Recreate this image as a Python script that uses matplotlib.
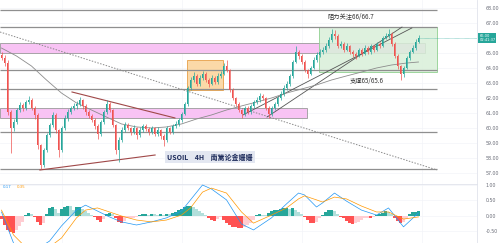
import matplotlib
matplotlib.use("Agg")
import matplotlib.pyplot as plt
from matplotlib.patches import Rectangle
import matplotlib.transforms as mtransforms

plt.rcParams['font.family'] = ['DejaVu Sans', 'Noto Sans CJK SC']

# ---------------- data (USOIL 4H) ----------------
first_open = 64.87
closes = [64.67, 64.33, 61.07, 60.00, 60.40, 61.20, 61.53, 61.33, 61.73, 61.87,
          61.33, 60.87, 58.87, 57.53, 58.53, 59.53, 60.20, 60.87, 59.87, 58.53,
          60.00, 60.67, 61.07, 61.33, 61.47, 61.60, 61.87, 61.47, 61.07, 60.80,
          60.53, 60.13, 59.60, 60.40, 61.07, 61.60, 61.20, 60.20, 58.53, 59.20,
          59.87, 60.20, 60.00, 59.73, 60.00, 59.53, 59.87, 60.13, 59.93, 59.73,
          60.00, 59.60, 59.87, 59.47, 59.20, 60.00, 59.73, 60.13, 60.27, 60.53,
          60.93, 61.60, 62.67, 63.20, 63.47, 62.93, 63.33, 63.60, 63.20, 62.93,
          63.33, 63.07, 63.47, 63.60, 64.13, 63.87, 62.53, 62.00, 61.60, 61.20,
          60.93, 61.33, 61.07, 61.47, 61.73, 61.87, 62.13, 62.00, 61.33, 60.93,
          61.33, 61.60, 62.00, 62.27, 62.67, 62.93, 63.47, 64.40, 65.07, 64.80,
          64.40, 63.87, 63.60, 64.00, 64.53, 64.87, 65.07, 65.20, 65.47, 65.87,
          66.27, 66.13, 65.47, 65.60, 65.20, 65.47, 65.07, 64.93, 64.80, 65.20,
          64.93, 65.33, 65.07, 65.47, 65.20, 65.60, 65.47, 66.00, 66.13, 66.27,
          65.60, 64.80, 64.13, 63.60, 64.00, 64.67, 65.07, 65.33, 65.73, 66.00]
highs = [65.05, 64.85, 64.50, 61.20, 60.60, 61.35, 61.75, 61.70, 61.90, 62.15,
         62.00, 61.45, 61.00, 58.95, 58.70, 59.70, 60.35, 61.10, 61.00, 59.95,
         60.15, 60.85, 61.25, 61.50, 61.65, 61.80, 62.10, 61.95, 61.60, 61.20,
         60.95, 60.65, 60.25, 60.55, 61.20, 61.87, 61.75, 61.30, 60.30, 59.40,
         60.05, 60.40, 60.35, 60.10, 60.20, 60.10, 60.05, 60.30, 60.25, 60.05,
         60.15, 60.10, 60.05, 59.95, 59.60, 60.15, 60.10, 60.30, 60.45, 60.70,
         61.10, 61.75, 62.80, 63.40, 63.75, 63.60, 63.50, 63.80, 63.70, 63.30,
         63.50, 63.45, 63.65, 63.80, 64.35, 64.53, 63.95, 62.65, 62.10, 61.75,
         61.30, 61.50, 61.45, 61.60, 61.90, 62.05, 62.35, 62.25, 62.10, 61.45,
         61.50, 61.75, 62.15, 62.45, 62.85, 63.10, 63.60, 64.55, 65.47, 65.20,
         64.90, 64.50, 63.95, 64.15, 64.70, 65.05, 65.25, 65.40, 65.65, 66.05,
         66.60, 66.50, 66.25, 65.80, 65.70, 65.65, 65.55, 65.20, 65.05, 65.35,
         65.30, 65.50, 65.45, 65.60, 65.55, 65.75, 65.70, 66.15, 66.30, 66.60,
         66.40, 65.70, 64.90, 64.20, 64.15, 64.80, 65.20, 65.50, 65.90, 66.20]
lows = [64.50, 64.15, 60.90, 58.35, 59.80, 60.25, 61.05, 61.15, 61.20, 61.60,
        61.20, 60.60, 58.60, 57.27, 57.40, 58.40, 59.40, 60.05, 59.70, 58.10,
        58.40, 59.90, 60.50, 60.95, 61.20, 61.30, 61.45, 61.30, 60.90, 60.65,
        60.40, 59.95, 59.25, 59.45, 60.30, 60.95, 61.05, 60.05, 58.30, 57.75,
        59.05, 59.75, 59.85, 59.55, 59.60, 59.30, 59.40, 59.75, 59.80, 59.55,
        59.60, 59.45, 59.50, 59.30, 58.80, 59.10, 59.60, 59.60, 60.00, 60.15,
        60.40, 60.85, 61.50, 62.55, 63.05, 62.80, 62.80, 63.20, 63.05, 62.75,
        62.85, 62.90, 62.95, 63.35, 63.50, 63.70, 62.40, 61.85, 61.45, 61.05,
        60.70, 60.80, 60.95, 60.95, 61.35, 61.60, 61.75, 61.85, 61.20, 60.70,
        60.80, 61.20, 61.50, 61.85, 62.15, 62.55, 62.80, 63.35, 64.30, 64.60,
        64.25, 63.70, 63.33, 63.50, 63.90, 64.40, 64.75, 64.95, 65.05, 65.35,
        65.75, 65.95, 65.30, 65.35, 65.05, 65.10, 64.90, 64.75, 64.60, 64.70,
        64.80, 64.85, 64.95, 64.95, 65.05, 65.10, 65.30, 65.40, 65.90, 66.00,
        65.45, 64.65, 63.95, 63.20, 63.40, 63.90, 64.55, 65.00, 65.20, 65.65]

ma_idx = [0, 5, 10, 15, 20, 25, 30, 35, 40, 45, 50, 55, 60, 65, 70, 75, 80,
          85, 90, 95, 100, 105, 110, 115, 120, 125, 130, 135, 139]
ma_val = [65.33, 64.80, 64.13, 63.20, 62.33, 61.67, 61.20, 60.73, 60.27, 60.07,
          60.00, 60.07, 60.27, 60.60, 60.87, 61.20, 61.47, 61.73, 62.00, 62.33,
          62.60, 62.87, 63.20, 63.47, 63.73, 64.00, 64.20, 64.33, 64.40]

level_lines = [67.87, 66.73, 63.87, 62.60, 59.73, 57.27]
band_upper = (65.00, 65.67)
band_lower = (60.67, 61.33)
green_box = (105.8, 145.2, 63.73, 66.73)   # idx0, idx1, low, high
orange_box = (61.8, 73.8, 62.53, 64.53)
dotted_line = ((-0.5, 66.40), (145.2, 57.20))
brown_lines = [((23.5, 62.40), (57.8, 60.67)), ((12.8, 57.20), (51.2, 58.20))]
rise_lines = [((88.5, 60.73), (133.5, 66.73)), ((80.5, 60.87), (136.8, 66.67))]

hist = [-0.10, -0.30, -0.45, -0.52, -0.55, -0.45, -0.32, -0.18, 0.04, 0.10,
        0.08, -0.04, -0.18, -0.29, -0.22, 0.08, 0.27, 0.29, 0.22, 0.10,
        0.22, 0.30, 0.33, 0.31, 0.18, 0.28, 0.30, 0.24, 0.16, 0.10,
        0.04, -0.02, -0.12, -0.19, -0.10, 0.05, 0.10, 0.08, -0.05, -0.18,
        -0.23, -0.16, -0.08, -0.06, -0.05, -0.03, 0.03, 0.05, 0.06, 0.04,
        0.07, 0.05, 0.03, 0.05, 0.04, 0.07, 0.06, 0.09, 0.14, 0.18,
        0.22, 0.28, 0.32, 0.33, 0.30, 0.24, 0.16, 0.09, 0.03, -0.06,
        -0.13, -0.16, -0.10, -0.04, -0.12, -0.22, -0.30, -0.34, -0.36, -0.38,
        -0.39, -0.36, -0.30, -0.22, -0.12, 0.02, 0.06, 0.03, 0.02, 0.10,
        0.15, 0.18, 0.20, 0.22, 0.25, 0.26, 0.24, 0.25, 0.20, 0.12,
        0.05, -0.04, -0.14, -0.22, -0.24, -0.18, -0.05, 0.02, 0.12, 0.18,
        0.20, 0.16, 0.05, -0.03, -0.08, -0.15, -0.22, -0.25, -0.24, -0.20,
        -0.14, -0.08, -0.05, -0.07, -0.04, 0.02, 0.05, 0.10, 0.15, 0.12,
        0.05, -0.06, -0.16, -0.22, -0.20, -0.10, 0.05, 0.12, 0.14, 0.16]
macd_idx = [0, 4, 8, 16, 20, 25, 28, 32, 36, 40, 45, 50, 55, 60, 63, 67, 70, 75,
            80, 84, 90, 95, 99, 101, 105, 107, 111, 115, 120, 125, 129, 134, 139]
macd_line = [0.13, -0.87, -1.30, -0.81, -0.32, 0.19, 0.35, 0.16, -0.03, -0.19,
             -0.29, -0.19, -0.06, 0.16, 0.52, 1.00, 0.87, 0.52, -0.26, -0.45,
             -0.06, 0.39, 0.74, 0.68, 0.29, 0.42, 0.74, 0.48, 0.19, 0.03,
             0.26, -0.35, 0.10]
signal_line = [0.19, -0.61, -1.00, -1.00, -0.71, -0.06, 0.19, 0.26, 0.13, 0.00,
               -0.13, -0.19, -0.13, 0.03, 0.26, 0.77, 0.90, 0.74, 0.13, -0.23,
               0.03, 0.26, 0.55, 0.65, 0.52, 0.45, 0.61, 0.55, 0.32, 0.13,
               0.13, -0.10, -0.03]

price_ticks = [57, 58, 59, 60, 61, 62, 63, 64, 65, 67, 68]   # 66 is covered by the price tag
macd_ticks = [-0.5, 0.0, 0.5, 1.0]

# ---------------- figure ----------------
UP, DN = '#26a69a', '#ef5350'
fig = plt.figure(figsize=(5, 2.43), dpi=100)
split = 1 - 184 / 243
right = 477 / 500
ax = fig.add_axes([0, split, right, 1 - split])
axm = fig.add_axes([0, 0, right, split])

XL = (-0.5, 158.5)
ax.set_xlim(*XL)
ax.set_ylim(56.267, 68.533)
axm.set_xlim(*XL)
axm.set_ylim(-0.871, 1.032)

for a in (ax, axm):
    for s in ('top', 'left', 'bottom'):
        a.spines[s].set_visible(False)
    a.spines['right'].set_color('#e0e3eb')
    a.spines['right'].set_linewidth(0.6)
    a.set_xticks([20, 60, 100, 140])
    a.grid(True, color='#f3f4f8', lw=0.5)
    a.set_axisbelow(True)
    a.yaxis.tick_right()
    a.tick_params(axis='x', length=0, labelbottom=False)
    a.tick_params(axis='y', length=0, pad=6, labelsize=3.4, labelcolor='#6a6d78')
axm.spines['top'].set_visible(True)
axm.spines['top'].set_color('#e0e3eb')
axm.spines['top'].set_linewidth(0.6)

ax.set_yticks(price_ticks)
ax.set_yticklabels([f"{v:.2f}" for v in price_ticks])
axm.set_yticks(macd_ticks)
axm.set_yticklabels([f"{v:.2f}" for v in macd_ticks])

# zones
ax.add_patch(Rectangle((-0.5, band_upper[0]), 141.7, band_upper[1] - band_upper[0],
                       facecolor='#f8c3f4', edgecolor='#9a9a9a', lw=0.6, zorder=1))
ax.add_patch(Rectangle((-0.5, band_lower[0]), 102.3, band_lower[1] - band_lower[0],
                       facecolor='#f8c3f4', edgecolor='#9a9a9a', lw=0.6, zorder=1))
ax.add_patch(Rectangle((green_box[0], green_box[2]), green_box[1] - green_box[0],
                       green_box[3] - green_box[2], facecolor='#d9efd9',
                       edgecolor='#8fcf8f', lw=0.7, alpha=0.85, zorder=1))
ax.add_patch(Rectangle((orange_box[0], orange_box[2]), orange_box[1] - orange_box[0],
                       orange_box[3] - orange_box[2], facecolor='#fbd9a8',
                       edgecolor='#eaa95a', lw=0.7, zorder=1))
for lv in level_lines:
    ax.hlines(lv, -0.5, 145.2, color='#8f8f8f', lw=0.9, zorder=2)

# trend lines
(x0, y0), (x1, y1) = dotted_line
ax.plot([x0, x1], [y0, y1], color='#8a8a8a', lw=0.7, ls=(0, (1.5, 1.5)), zorder=2)
for (a0, b0), (a1, b1) in brown_lines:
    ax.plot([a0, a1], [b0, b1], color='#a04848', lw=0.8, zorder=2)
for (a0, b0), (a1, b1) in rise_lines:
    ax.plot([a0, a1], [b0, b1], color='#555555', lw=0.6, zorder=2)
ax.plot(ma_idx, ma_val, color='#8c8c8c', lw=0.6, zorder=2)

# candles
opens = [first_open] + closes[:-1]
for i, (o, h, l, c) in enumerate(zip(opens, highs, lows, closes)):
    col = UP if c >= o else DN
    ax.vlines(i, l, h, color=col, lw=0.5, zorder=3)
    ax.bar(i, max(abs(c - o), 0.04), bottom=min(o, c), width=0.62, color=col,
           lw=0, zorder=3)

# current price tag
tr = mtransforms.blended_transform_factory(ax.transAxes, ax.transData)
ax.hlines(closes[-1], len(closes) - 1, XL[1], color=UP, lw=0.4, ls=(0, (1, 1)), zorder=2)
ax.text(1.005, closes[-1], f"{closes[-1]:.2f}\n02:41:37", transform=tr,
        fontsize=2.6, color='white', va='center', ha='left', linespacing=1.0,
        bbox=dict(boxstyle='square,pad=0.25', fc=UP, ec='none'), clip_on=False, zorder=6)

# annotations
cjk = ['Noto Sans CJK SC', 'DejaVu Sans']
ax.text(108.5, 67.4, "阻力关注66/66.7", family=cjk, fontsize=4.5, color='#333333',
        va='center', ha='left', zorder=5)
ax.text(116.2, 63.13, "支撑65/65.6", family=cjk, fontsize=4.5, color='#333333',
        va='center', ha='left', zorder=5)
ax.text(55.2, 58.07, "USOIL    4H    南篱论金姗姗", family=cjk, fontsize=5,
        color='#1c2a5a', fontweight='bold', fontstyle='italic', va='center', ha='left',
        bbox=dict(boxstyle='square,pad=0.3', fc='#e3e7f1', ec='none'), zorder=5)

# MACD panel
prev = 0.0
for i, v in enumerate(hist):
    if v >= 0:
        col = '#26a69a' if v >= prev else '#b2dfdb'
    else:
        col = '#ff5252' if v <= prev else '#ffcdd2'
    axm.bar(i, v, width=0.7, color=col, lw=0, zorder=2)
    prev = v
axm.plot(macd_idx, macd_line, color='#2196f3', lw=0.5, zorder=3)
axm.plot(macd_idx, signal_line, color='#ff9800', lw=0.5, zorder=3)
axm.text(0.3, 0.93, "0.17", color='#2196f3', fontsize=2.8, va='center', ha='left', zorder=5)
axm.text(5.2, 0.93, "0.35", color='#ff9800', fontsize=2.8, va='center', ha='left', zorder=5)

fig.savefig("out.png", dpi=100)
